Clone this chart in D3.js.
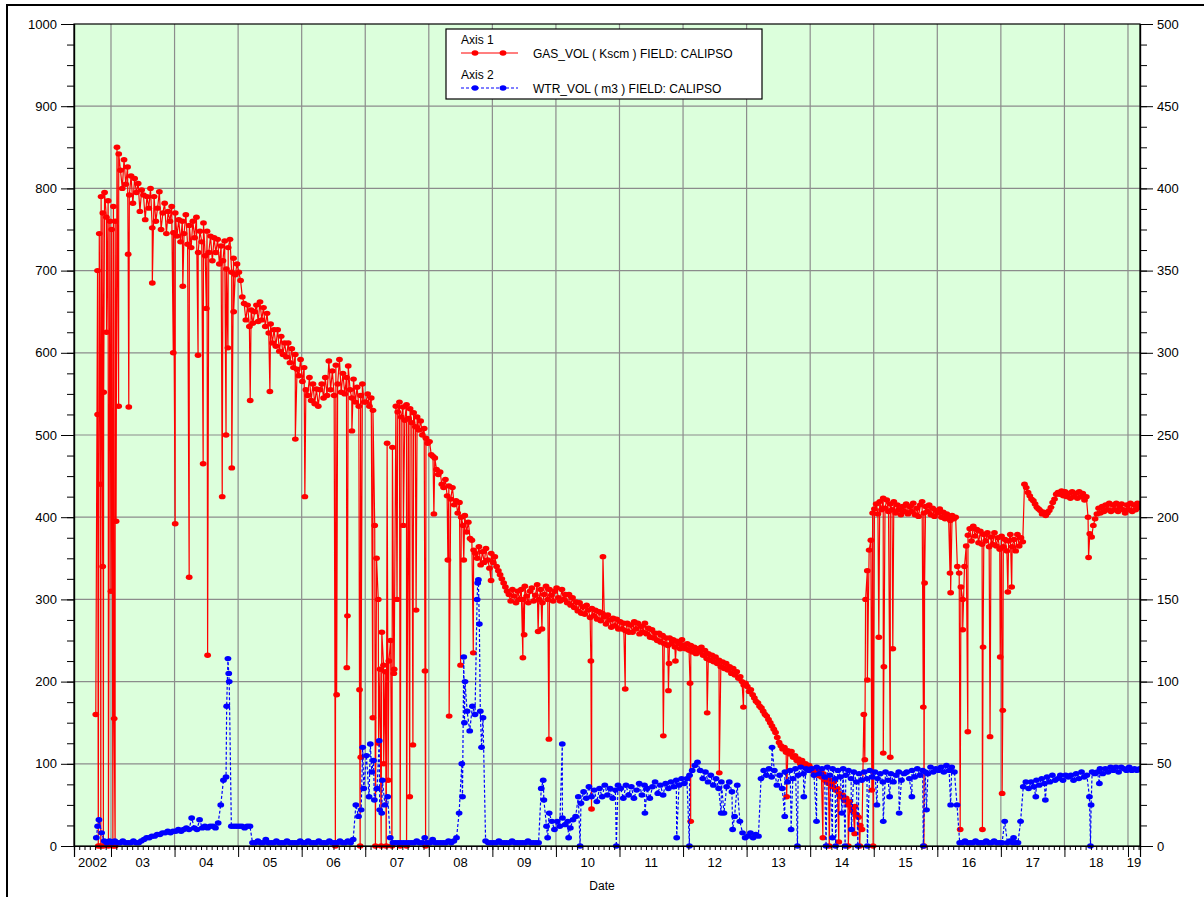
<!DOCTYPE html>
<html>
<head>
<meta charset="utf-8">
<script src="https://cdnjs.cloudflare.com/ajax/libs/d3/7.8.5/d3.min.js"></script>
<style>
  body { margin: 0; background: #fff; }
  svg { display: block; }
  text { font-family: "Liberation Sans", Arial, sans-serif; fill: #000; }
</style>
</head>
<body>
<div class="chart"></div>
<script>
// x positions are decimal years. Gas is sampled 3 times a month, water twice a month, both from Oct 2002
var yearLabels = ["2002", "03", "04", "05", "06", "07", "08", "09", "10", "11", "12", "13", "14", "15", "16", "17", "18", "19"];
var leftTicks = [0, 100, 200, 300, 400, 500, 600, 700, 800, 900, 1000];
var rightTicks = [0, 50, 100, 150, 200, 250, 300, 350, 400, 450, 500];

// GAS_VOL (Kscm), left axis
var gasBase = [
  160, 700, 745, 790, 770, 795, 765, 785, 760, // 2002 Oct-Dec
  750, 778, 760, 850, 842, 822, 800, 835, 805, 826, 792, 815, 782, 812, 795, 806, 772, 798,
  792, 762, 790, 776, 800, 752, 790, 760, 776, 796, 750, 770, 782, 745, 772, 760, 778, 746,
  770, 742, 762, 735, 760, 745, 768, 732, 755, 728, 760, 740, 765, 722, 748, 735, 758, 718,
  748, 722, 742, 712, 740, 722, 738, 708, 730, 712, 736, 702, 728, 738, 698, 715, 695, 708,
  698, 688, 668, 660, 640, 658, 632, 652, 636, 650, 658, 638, 662, 640, 655, 632, 648, 624,
  635, 612, 628, 608, 628, 602, 620, 598, 612, 595, 612, 588, 605, 582, 598, 580, 572, 592,
  565, 582, 555, 548, 570, 542, 562, 538, 556, 535, 555, 562, 545, 570, 548, 590, 555, 578,
  548, 585, 562, 592, 552, 575, 550, 570, 584, 555, 545, 568, 540, 558, 535, 548, 562, 540,
  540, 550, 535, 545, 530, 390, 350, 300, 215, 260, 220, 212, 490, 225, 250, 485, 215, 535,
  528, 540, 522, 534, 518, 537, 520, 532, 515, 527, 510, 522, 506, 517, 500, 508, 496, 490,
  492, 476, 474, 472, 458, 452, 455, 440, 436, 446, 426, 438, 422, 436, 415, 420, 405, 418,
  400, 390, 402, 382, 394, 374, 372, 360, 356, 350, 364, 342, 358, 345, 362, 348, 338, 356,
  345, 352, 340, 335, 330, 325, 320, 315, 310, 306, 298, 312, 304, 296, 310, 300, 312, 300,
  316, 304, 296, 310, 314, 298, 305, 318, 300, 312, 296, 306, 316, 300, 312, 305, 298, 310,
  314, 302, 298, 312, 300, 306, 296, 306, 293, 302, 290, 297, 286, 296, 283, 291, 282, 293,
  287, 278, 289, 280, 287, 276, 285, 274, 283, 279, 270, 281, 275, 266, 277, 268, 276, 264,
  273, 264, 271, 262, 271, 260, 269, 260, 273, 264, 271, 258, 267, 260, 271, 258, 265, 254,
  263, 253, 259, 250, 259, 248, 256, 246, 253, 244, 253, 246, 251, 242, 249, 246, 240, 251,
  244, 240, 246, 238, 244, 236, 242, 234, 240, 236, 242, 232, 238, 228, 234, 226, 232, 224,
  230, 222, 226, 218, 224, 216, 222, 214, 218, 210, 216, 208, 212, 204, 206, 200, 196, 198,
  194, 188, 190, 184, 180, 176, 174, 170, 168, 164, 160, 158, 154, 150, 146, 142, 138, 132,
  126, 122, 118, 120, 114, 116, 112, 115, 108, 110, 104, 106, 100, 104, 98, 100, 96, 98,
  95, 92, 88, 90, 86, 92, 84, 88, 80, 82, 76, 80, 72, 78, 68, 70, 64, 60,
  62, 55, 58, 50, 54, 46, 42, 48, 38, 35, 25, 20, 160, 300, 335, 360, 372, 405,
  410, 416, 404, 419, 409, 423, 411, 421, 407, 416, 409, 419, 405, 415, 409, 403, 413, 407,
  416, 404, 413, 407, 417, 403, 411, 401, 415, 419, 405, 413, 407, 415, 403, 411, 401, 408,
  405, 410, 400, 406, 398, 404, 400, 396, 402, 398, 400, 340, 332, 315, 300, 340, 365, 378,
  386, 371, 389, 377, 385, 369, 383, 367, 379, 371, 381, 364, 376, 367, 381, 365, 375, 361,
  377, 364, 373, 359, 371, 379, 364, 373, 359, 379, 365, 375, 370, 440, 436, 430, 426, 422,
  420, 416, 412, 410, 408, 404, 406, 402, 405, 408, 412, 418, 422, 428, 430, 428, 432, 426,
  431, 425, 429, 423, 431, 425, 429, 423, 431, 425, 429, 421, 425, 400, 380, 376, 390, 398,
  404, 411, 405, 413, 407, 415, 409, 417, 407, 415, 409, 417, 407, 413, 416, 409, 405, 415,
  409, 417, 407, 415, 409, 417, 412 // 2019 Jan-Mar
];
// short drops (shut-ins) and spikes between base samples: [year, value]
var gasDips = [
  [2002.790, 525], [2002.800, 0], [2002.835, 440], [2002.840, 0], [2002.870, 340], [2002.880, 0], [2002.885, 552],
  [2002.930, 625], [2002.960, 0], [2003.000, 310], [2003.030, 0], [2003.050, 155], [2003.065, 0], [2003.080, 395],
  [2003.120, 535], [2003.270, 720], [2003.280, 534], [2003.650, 685], [2003.980, 600], [2004.010, 392], [2004.130, 681],
  [2004.230, 327], [2004.370, 597], [2004.450, 465], [2004.500, 654], [2004.520, 232], [2004.750, 425], [2004.810, 500],
  [2004.840, 606], [2004.900, 460], [2004.930, 650], [2005.190, 542], [2005.500, 553], [2005.900, 495], [2006.050, 425],
  [2006.530, 0], [2006.550, 184], [2006.710, 217], [2006.720, 280], [2006.790, 505], [2006.910, 190], [2006.920, 0],
  [2006.930, 108], [2007.120, 156], [2007.160, 0], [2007.210, 125], [2007.250, 0], [2007.290, 100], [2007.330, 0],
  [2007.360, 80], [2007.420, 0], [2007.450, 210], [2007.500, 300], [2007.550, 0], [2007.600, 390], [2007.650, 0],
  [2007.700, 60], [2007.750, 123], [2007.800, 287], [2007.940, 213], [2007.950, 0], [2008.080, 404], [2008.300, 348],
  [2008.320, 158], [2008.500, 220], [2008.550, 348], [2008.700, 235], [2008.980, 323], [2009.480, 229], [2009.500, 257],
  [2009.720, 261], [2009.780, 264], [2009.890, 130], [2010.550, 225], [2010.560, 45], [2010.740, 352], [2011.090, 191],
  [2011.690, 134], [2011.770, 189], [2011.780, 222], [2011.880, 225], [2012.110, 198], [2012.120, 30], [2012.380, 162],
  [2012.570, 89], [2012.950, 169], [2013.630, 60], [2014.200, 10], [2014.300, 0], [2014.450, 5], [2014.600, 0],
  [2014.700, 15], [2014.780, 0], [2014.860, 105], [2014.900, 202], [2014.970, 68], [2014.990, 0], [2015.080, 254],
  [2015.150, 113], [2015.160, 218], [2015.260, 108], [2015.300, 240], [2015.780, 169], [2015.790, 0], [2015.800, 320],
  [2016.200, 332], [2016.210, 308], [2016.360, 20], [2016.400, 263], [2016.480, 139], [2016.710, 20], [2016.720, 242],
  [2016.830, 133], [2016.990, 230], [2017.020, 64], [2017.030, 165], [2017.110, 309], [2017.170, 315], [2018.380, 351]
];

// WTR_VOL (m3), right axis
var wtrBase = [
  5, 16, 8, 3, 2, 3, // 2002 Oct-Dec
  2, 3, 2, 2, 3, 2, 2, 2, 3, 2, 2, 3, 4, 5, 5, 6, 6, 7, 7, 8, 8, 9, 8, 9,
  9, 10, 9, 10, 11, 10, 17, 11, 10, 16, 11, 12, 11, 12, 12, 11, 14, 25, 40, 42, 105, 12, 12, 12,
  12, 12, 11, 12, 12, 2, 2, 3, 2, 2, 4, 2, 2, 2, 3, 2, 2, 2, 3, 2, 2, 2, 2, 3,
  2, 2, 3, 2, 2, 2, 3, 2, 2, 2, 3, 2, 2, 2, 3, 2, 2, 3, 2, 4, 25, 18, 22, 35,
  55, 30, 45, 28, 35, 22, 40, 25, 30, 5, 2, 2, 2, 2, 2, 2, 2, 2, 2, 3, 2, 2, 5, 2,
  2, 4, 2, 2, 2, 2, 2, 3, 2, 3, 5, 20, 50, 75, 82, 70, 85, 80, 160, 82, 78, 3, 2, 2,
  2, 2, 3, 2, 2, 2, 2, 3, 2, 2, 2, 2, 2, 3, 2, 2, 2, 2, 35, 28, 12, 20, 15, 10,
  15, 12, 17, 13, 15, 11, 16, 18, 30, 26, 33, 29, 36, 30, 34, 27, 35, 30, 37, 31, 35, 29, 34, 37,
  35, 29, 37, 31, 36, 29, 34, 38, 31, 37, 35, 29, 36, 39, 32, 37, 31, 38, 35, 39, 36, 40, 37, 41,
  38, 41, 43, 46, 49, 51, 46, 41, 45, 39, 43, 37, 41, 35, 39, 20, 36, 39, 33, 18, 37, 15, 8, 5,
  6, 8, 5, 7, 6, 41, 46, 43, 47, 42, 46, 37, 43, 35, 45, 39, 46, 41, 47, 43, 48, 44, 47, 46,
  47, 43, 48, 44, 47, 42, 48, 43, 47, 41, 46, 42, 47, 43, 46, 41, 45, 39, 44, 40, 45, 41, 46, 42,
  45, 41, 44, 39, 45, 40, 44, 39, 43, 45, 40, 44, 45, 41, 46, 42, 47, 43, 46, 45, 44, 48, 45, 47,
  46, 48, 45, 49, 46, 48, 45, 25, 2, 2, 3, 2, 2, 2, 3, 2, 2, 2, 3, 2, 2, 3, 2, 2,
  2, 15, 2, 3, 2, 2, 2, 15, 36, 39, 35, 39, 36, 40, 37, 41, 38, 42, 39, 43, 40, 41, 43, 40,
  43, 42, 43, 40, 44, 41, 45, 42, 43, 30, 45, 44, 45, 47, 44, 47, 45, 48, 46, 48, 45, 48, 47, 46,
  48, 46, 47, 46, 47 // 2019
];
var wtrDips = [
  [2002.790, 12], [2004.820, 85], [2004.840, 114], [2004.860, 100], [2006.960, 60], [2007.080, 62], [2007.130, 52],
  [2007.220, 64], [2007.260, 20], [2008.530, 30], [2008.550, 115], [2008.570, 100], [2008.760, 150], [2008.780, 162],
  [2008.795, 135], [2008.830, 60], [2009.800, 40], [2009.870, 5], [2010.100, 62], [2010.200, 5], [2010.380, 0],
  [2010.950, 0], [2011.400, 20], [2011.900, 5], [2012.100, 0], [2012.600, 20], [2012.780, 10], [2013.400, 60],
  [2013.600, 18], [2013.700, 10], [2013.800, 0], [2013.900, 30], [2014.100, 15], [2014.250, 0], [2014.350, 5],
  [2014.400, 0], [2014.500, 20], [2014.550, 0], [2014.650, 10], [2014.750, 0], [2014.900, 0], [2015.050, 25],
  [2015.150, 15], [2015.250, 30], [2015.400, 20], [2015.600, 30], [2015.780, 0], [2015.830, 22], [2016.210, 25],
  [2017.200, 5], [2017.550, 30], [2017.700, 28], [2018.410, 0], [2018.420, 25], [2018.550, 38]
];

// sample i of a series taken perMonth times a month, starting October 2002
function sampleTime(i, perMonth) {
  var m = 9 + Math.floor(i / perMonth);
  var days = perMonth === 3 ? [4, 14, 24] : [7, 22];
  return 2002 + m / 12 + days[i % perMonth] / 365;
}
function buildSeries(base, perMonth, dips) {
  return base.map(function (v, i) { return [sampleTime(i, perMonth), v]; })
    .concat(dips)
    .sort(function (a, b) { return a[0] - b[0]; });
}

function draw() {
  var gas = buildSeries(gasBase, 3, gasDips);
  var wtr = buildSeries(wtrBase, 2, wtrDips);

  var width = 1204, height = 897;
  var pLeft = 74, pRight = 1140, pTop = 24, pBottom = 846;

  var svg = d3.select(".chart").append("svg")
    .attr("width", width).attr("height", height);

  // outer frame (runs off the page on the right and bottom)
  svg.append("rect")
    .attr("x", 7).attr("y", 5).attr("width", 1300).attr("height", 1000)
    .attr("fill", "none").attr("stroke", "#000").attr("stroke-width", 2);

  var x = d3.scaleLinear().domain([2002.418, 2019.189]).range([pLeft, pRight]);
  var yL = d3.scaleLinear().domain([0, 1000]).range([pBottom, pTop]);
  var yR = d3.scaleLinear().domain([0, 500]).range([pBottom, pTop]);

  // plot background
  svg.append("rect")
    .attr("x", pLeft).attr("y", pTop).attr("width", pRight - pLeft).attr("height", pBottom - pTop)
    .attr("fill", "#dcffdc");

  // grid
  var years = d3.range(2003, 2020);
  svg.append("g").selectAll("line").data(years).enter().append("line")
    .attr("x1", function (d) { return x(d); }).attr("x2", function (d) { return x(d); })
    .attr("y1", pTop).attr("y2", pBottom)
    .attr("stroke", "#8c8c8c").attr("stroke-width", 1.2);
  svg.append("g").selectAll("line").data(leftTicks.slice(1, -1)).enter().append("line")
    .attr("x1", pLeft).attr("x2", pRight)
    .attr("y1", function (d) { return yL(d); }).attr("y2", function (d) { return yL(d); })
    .attr("stroke", "#8c8c8c").attr("stroke-width", 1.2);

  svg.append("clipPath").attr("id", "plotclip").append("rect")
    .attr("x", pLeft).attr("y", pTop - 4).attr("width", pRight - pLeft).attr("height", pBottom - pTop + 8);

  var plot = svg.append("g").attr("clip-path", "url(#plotclip)");

  // gas series
  var gasLine = d3.line().x(function (d) { return x(d[0]); }).y(function (d) { return yL(d[1]); });
  plot.append("path").datum(gas)
    .attr("d", gasLine).attr("fill", "none").attr("stroke", "#ff0000").attr("stroke-width", 1.2);
  plot.append("g").selectAll("ellipse").data(gas).enter().append("ellipse")
    .attr("cx", function (d) { return x(d[0]); }).attr("cy", function (d) { return yL(d[1]); })
    .attr("rx", 3.4).attr("ry", 2.7).attr("fill", "#ff0000");

  // water series
  var wtrLine = d3.line().x(function (d) { return x(d[0]); }).y(function (d) { return yR(d[1]); });
  plot.append("path").datum(wtr)
    .attr("d", wtrLine).attr("fill", "none").attr("stroke", "#0000ff").attr("stroke-width", 1.2)
    .attr("stroke-dasharray", "3,2");
  plot.append("g").selectAll("ellipse").data(wtr).enter().append("ellipse")
    .attr("cx", function (d) { return x(d[0]); }).attr("cy", function (d) { return yR(d[1]); })
    .attr("rx", 3.4).attr("ry", 2.7).attr("fill", "#0000ff");

  // plot border
  svg.append("rect")
    .attr("x", pLeft).attr("y", pTop).attr("width", pRight - pLeft).attr("height", pBottom - pTop)
    .attr("fill", "none").attr("stroke", "#000").attr("stroke-width", 1.2);

  // left axis
  var gl = svg.append("g").attr("transform", "translate(" + pLeft + ",0)");
  gl.append("g").call(d3.axisLeft(yL).tickValues(d3.range(0, 1001, 25)).tickSize(7).tickFormat(""));
  gl.append("g").call(d3.axisLeft(yL).tickValues(leftTicks).tickSize(13).tickPadding(4).tickFormat(d3.format("d")));
  // right axis
  var gr = svg.append("g").attr("transform", "translate(" + pRight + ",0)");
  gr.append("g").call(d3.axisRight(yR).tickValues(d3.range(0, 501, 12.5)).tickSize(7).tickFormat(""));
  gr.append("g").call(d3.axisRight(yR).tickValues(rightTicks).tickSize(13).tickPadding(4).tickFormat(d3.format("d")));
  // bottom axis: monthly minor ticks, yearly major ticks
  var months = d3.range(2002 * 12 + 6, 2019 * 12 + 3).map(function (m) { return m / 12; });
  var gb = svg.append("g").attr("transform", "translate(0," + pBottom + ")");
  gb.append("g").call(d3.axisBottom(x).tickValues(months).tickSize(4).tickFormat(""));
  gb.append("g").call(d3.axisBottom(x).tickValues(years).tickSize(11).tickFormat(""));

  svg.selectAll(".domain").attr("stroke", "#000").attr("stroke-width", 1.2);
  svg.selectAll(".tick line").attr("stroke", "#000");
  svg.selectAll(".tick text").attr("font-size", 13).attr("font-family", "Liberation Sans, Arial, sans-serif");

  // year labels centred in the visible part of each year
  var dom = x.domain();
  svg.append("g").selectAll("text").data(yearLabels).enter().append("text")
    .attr("x", function (d, i) {
      var y0 = Math.max(2002 + i, dom[0]), y1 = Math.min(2003 + i, dom[1]);
      return (x(y0) + x(y1)) / 2;
    })
    .attr("y", 867)
    .attr("text-anchor", "middle")
    .attr("font-size", 13)
    .text(function (d) { return d; });

  svg.append("text")
    .attr("x", 602).attr("y", 890)
    .attr("text-anchor", "middle")
    .attr("font-size", 12)
    .text("Date");

  // legend
  var lg = svg.append("g");
  lg.append("rect")
    .attr("x", 446).attr("y", 29).attr("width", 316).attr("height", 70)
    .attr("fill", "#fff").attr("stroke", "#000").attr("stroke-width", 1.2);
  var items = [
    { axis: "Axis 1", label: "GAS_VOL ( Kscm ) FIELD: CALIPSO", color: "#ff0000", dash: null },
    { axis: "Axis 2", label: "WTR_VOL ( m3 ) FIELD: CALIPSO", color: "#0000ff", dash: "3,2" }
  ];
  items.forEach(function (it, i) {
    var yy = 53 + i * 35;
    lg.append("text").attr("x", 461).attr("y", yy - 9).attr("font-size", 12).text(it.axis);
    lg.append("line").attr("x1", 461).attr("x2", 518).attr("y1", yy).attr("y2", yy)
      .attr("stroke", it.color).attr("stroke-width", 1.2).attr("stroke-dasharray", it.dash);
    [475, 503].forEach(function (cx) {
      lg.append("ellipse").attr("cx", cx).attr("cy", yy).attr("rx", 3.4).attr("ry", 2.7).attr("fill", it.color);
    });
    lg.append("text").attr("x", 533).attr("y", yy + 4.5).attr("font-size", 12).text(it.label);
  });
}

draw();
</script>
</body>
</html>
